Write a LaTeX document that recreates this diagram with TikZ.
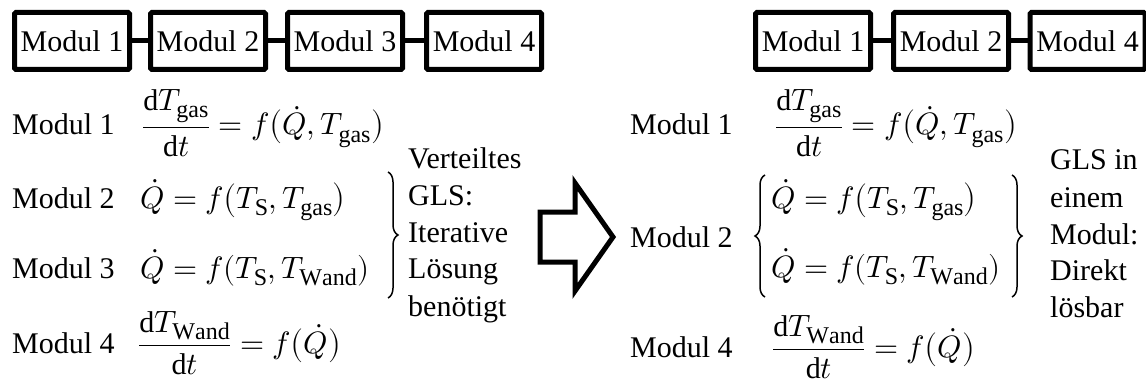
\documentclass[tikz,border=0pt]{standalone}
\usepackage{amsmath}
\usepackage{fontspec}
\usepackage{unicode-math}
\setmainfont{Liberation Serif}
\setmathfont{Latin Modern Math}[Scale=1.03]
\DeclareMathSizes{30}{30}{24}{19}
\usetikzlibrary{decorations.pathreplacing}

\newcommand{\dd}{\mathrm{d}}
\newcommand{\sub}[1]{_{\mathrm{#1}}}

\begin{document}
\begin{tikzpicture}[x=1pt,y=-1pt,
  every node/.style={font=\fontsize{30}{37}\selectfont},
  modbox/.style={draw, line width=5pt, rounded corners=1.5pt,
    minimum width=115pt, minimum height=57pt, inner sep=0pt},
  link/.style={line width=5pt},
  lbl/.style={anchor=base west, inner sep=0pt},
  eqn/.style={anchor=base west, inner sep=0pt},
  brc/.style={decorate, decoration={brace, amplitude=10pt}, line width=1.5pt},
  bigarrow/.style={line width=5pt, miter limit=10}
]
\useasboundingbox (0,0) rectangle (1146,385);

% ---- left: four modules in a chain ----
\node[modbox] (b1) at (72,41)  {Modul 1};
\node[modbox] (b2) at (208,41) {Modul 2};
\node[modbox] (b3) at (345,41) {Modul 3};
\node[modbox] (b4) at (484,41) {Modul 4};
\draw[link] (b1.east) -- (b2.west);
\draw[link] (b2.east) -- (b3.west);
\draw[link] (b3.east) -- (b4.west);

% ---- left: equations per module ----
\node[lbl] (l1) at (12,135) {Modul 1};
\node[lbl] (l2) at (12,208) {Modul 2};
\node[lbl] (l3) at (12,278) {Modul 3};
\node[lbl] (l4) at (12,353) {Modul 4};
\node[eqn] (e1) at (142,135) {$\dfrac{\dd T\sub{gas}}{\dd t} = f\bigl(\dot Q, T\sub{gas}\bigr)$};
\node[eqn] (e2) at (140,208) {$\dot Q = f\bigl(T\sub{S}, T\sub{gas}\bigr)$};
\node[eqn] (e3) at (140,278) {$\dot Q = f(T\sub{S}, T\sub{Wand})$};
\node[eqn] (e4) at (138,353) {$\dfrac{\dd T\sub{Wand}}{\dd t} = f\bigl(\dot Q\bigr)$};
\draw[brc] (388,172) -- (388,298);
\node[lbl] (n1) at (408,168) {\begin{tabular}[t]{@{}l@{}}Verteiltes\\GLS:\\Iterative\\Lösung\\benötigt\end{tabular}};

% ---- transition arrow ----
\draw[bigarrow] (540,212) -- (575,212) -- (575,183) -- (613,237)
  -- (575,291) -- (575,262) -- (540,262) -- cycle;

% ---- right: three modules in a chain ----
\node[modbox] (c1) at (813,41)  {Modul 1};
\node[modbox] (c2) at (951,41)  {Modul 2};
\node[modbox] (c4) at (1087.5,41) {Modul 4};
\draw[link] (c1.east) -- (c2.west);
\draw[link] (c2.east) -- (c4.west);

% ---- right: equations per module ----
\node[lbl] (r1) at (630,135) {Modul 1};
\node[lbl] (r2) at (630,247) {Modul 2};
\node[lbl] (r4) at (630,357) {Modul 4};
\node[eqn] (f1) at (775,135) {$\dfrac{\dd T\sub{gas}}{\dd t} = f\bigl(\dot Q, T\sub{gas}\bigr)$};
\node[eqn] (fa) at (771,208) {$\dot Q = f\bigl(T\sub{S}, T\sub{gas}\bigr)$};
\node[eqn] (fb) at (771,277) {$\dot Q = f(T\sub{S}, T\sub{Wand})$};
\node[eqn] (f4) at (772,357) {$\dfrac{\dd T\sub{Wand}}{\dd t} = f\bigl(\dot Q\bigr)$};
\draw[brc] (765,297) -- (765,175);
\draw[brc] (1012,175) -- (1012,297);
\node[lbl] (n2) at (1050,170) {\begin{tabular}[t]{@{}l@{}}GLS in\\einem\\Modul:\\Direkt\\lösbar\end{tabular}};
\end{tikzpicture}
\end{document}
